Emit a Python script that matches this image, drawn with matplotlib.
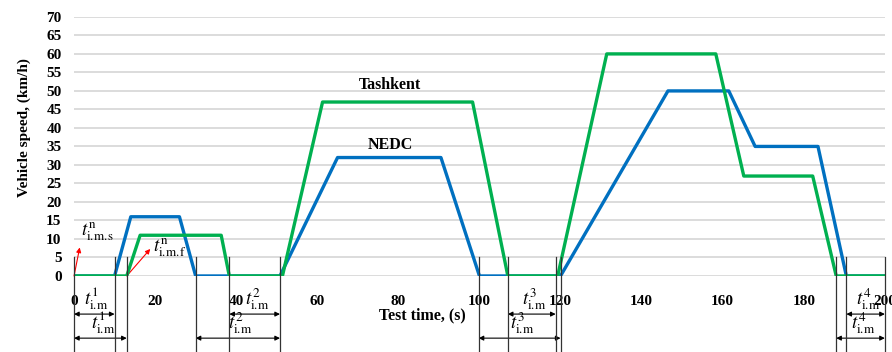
import matplotlib.pyplot as plt

plt.rcParams['font.family'] = ['Liberation Serif', 'DejaVu Serif']
plt.rcParams['mathtext.fontset'] = 'stix'

# NEDC (blue) and Tashkent (green) speed profiles
time_nedc = [0, 10, 14, 26, 30, 50.8, 65, 90.5, 100, 120, 146.5, 161.5, 168, 183.5, 190.5, 200]
speed_nedc = [0, 0, 16, 16, 0, 0, 32, 32, 0, 0, 50, 50, 35, 35, 0, 0]
time_tash = [0, 13, 16.3, 36.3, 38.3, 51.4, 61.3, 98.3, 107, 119.3, 131.4, 158.3, 165.2, 182.2, 188, 200]
speed_tash = [0, 0, 11, 11, 0, 0, 47, 47, 0, 0, 60, 60, 27, 27, 0, 0]

# idle-interval markers
mark_x = [0, 10, 13, 30, 38.3, 50.8, 99.8, 107, 118.8, 120, 188, 190.5, 200]
row1 = [(0, 10, 1), (38.3, 50.8, 2), (107, 118.8, 3), (190.5, 200, 4)]
row2 = [(0, 13, 1), (30, 50.8, 2), (99.8, 120, 3), (188, 200, 4)]

fig = plt.figure(figsize=(8.92, 3.52), dpi=100)
ax = fig.add_axes([0.083, 0.216, 0.909, 0.736])

ax.set_xlim(0, 200)
ax.set_ylim(0, 70)
ax.set_yticks(range(0, 71, 5))
ax.set_xticks(range(0, 201, 20))
ax.grid(axis='y', color='#d9d9d9', lw=1.3)
ax.set_axisbelow(True)
for s in ax.spines.values():
    s.set_visible(False)
ax.tick_params(length=0, labelsize=11, pad=14)
ax.tick_params(axis='y', pad=9)
for lab in ax.get_xticklabels() + ax.get_yticklabels():
    lab.set_fontweight('bold')

ax.plot(time_nedc, speed_nedc, color='#0070C0', lw=2.4, zorder=3)
ax.plot(time_tash, speed_tash, color='#00B050', lw=2.4, zorder=4)

ax.text(78, 51.6, 'Tashkent', ha='center', va='center', fontsize=11.5, fontweight='bold')
ax.text(78, 35.4, 'NEDC', ha='center', va='center', fontsize=11.5, fontweight='bold')

# vertical marker lines below the axis
for x in mark_x:
    ax.plot([x, x], [5, -21], color='#333333', lw=0.9, clip_on=False, zorder=5)

def interval(x0, x1, y, n):
    ax.annotate('', xy=(x0, y), xytext=(x1, y), annotation_clip=False,
                arrowprops=dict(arrowstyle='<|-|>', color='black', lw=0.8,
                                mutation_scale=7, shrinkA=0, shrinkB=0))
    ax.text((x0 + x1) / 2 + 0.6, y + 0.6, r'$t^{%d}_{\mathrm{i.\!m}}$' % n, ha='center',
            va='bottom', fontsize=13.5, clip_on=False)

for x0, x1, n in row1:
    interval(x0, x1, -10.3, n)
for x0, x1, n in row2:
    interval(x0, x1, -16.8, n)

# red arrows for start / finish moments
ax.annotate('', xy=(1.4, 7.7), xytext=(0, 0),
            arrowprops=dict(arrowstyle='-|>', color='red', lw=0.8, mutation_scale=7,
                            shrinkA=0, shrinkB=0))
ax.text(1.8, 11.9, r'$t^{\mathrm{n}}_{\mathrm{i.\!m.\!s}}$', fontsize=13.5, va='center')
ax.annotate('', xy=(18.8, 7.3), xytext=(13, 0),
            arrowprops=dict(arrowstyle='-|>', color='red', lw=0.8, mutation_scale=7,
                            shrinkA=0, shrinkB=0))
ax.text(19.6, 7.6, r'$t^{\mathrm{n}}_{\mathrm{i.\!m.\!f}}$', fontsize=13.5, va='center')

ax.set_ylabel('Vehicle speed, (km/h)', fontsize=11, fontweight='bold')
ax.yaxis.set_label_coords(-0.053, 0.571)
ax.text(86, -10.6, 'Test time, (s)', ha='center', va='center', fontsize=11.5,
        fontweight='bold', clip_on=False)

fig.savefig('out.png', dpi=100)
